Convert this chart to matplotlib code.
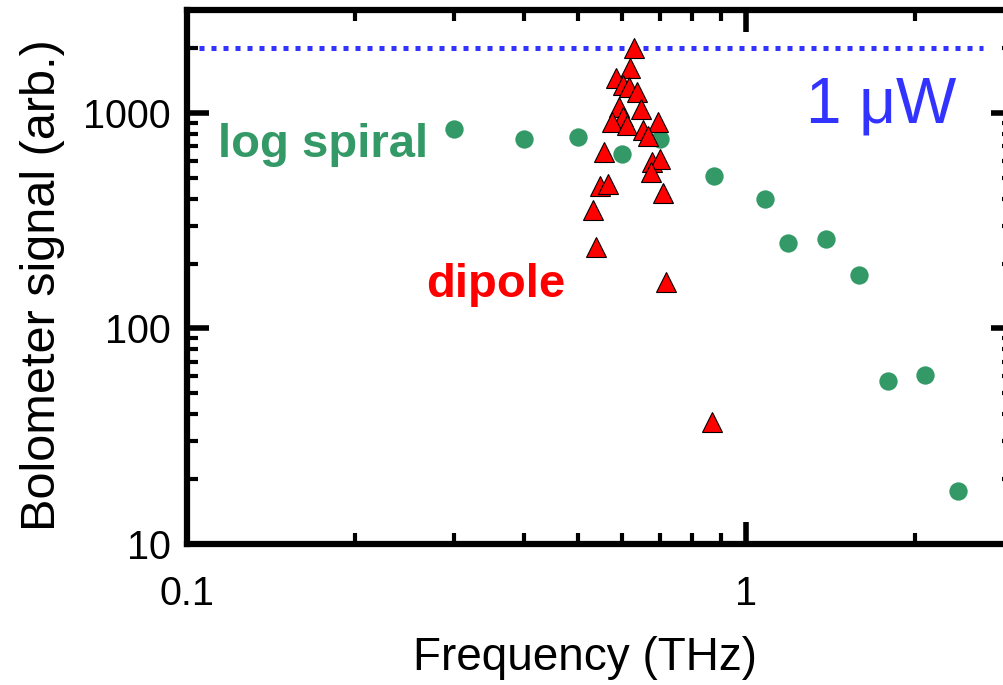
import matplotlib
matplotlib.use("Agg")
import matplotlib.pyplot as plt
from matplotlib.ticker import LogLocator, NullFormatter

plt.rcParams['font.family'] = ['Liberation Sans', 'DejaVu Sans']

# log spiral antenna (green circles)
spiral_f = [0.30, 0.40, 0.50, 0.60, 0.70, 0.874, 1.08, 1.19, 1.39, 1.59, 1.79, 2.09, 2.39]
spiral_s = [840, 755, 769, 641, 753, 509, 397, 248, 259, 177, 57, 60.5, 17.6]

# dipole antenna (red triangles)
dipole_f = [0.631, 0.620, 0.585, 0.601, 0.618, 0.638, 0.593, 0.648, 0.603, 0.575,
            0.612, 0.694, 0.655, 0.666, 0.557, 0.678, 0.702, 0.676, 0.548, 0.567,
            0.710, 0.531, 0.539, 0.719, 0.868]
dipole_s = [2002, 1607, 1453, 1344, 1320, 1243, 1066, 1040, 958, 903,
            877, 903, 831, 780, 659, 592, 614, 532, 457, 467,
            423, 354, 239, 164, 36.8]

# 1 uW reference level
ref_level = 2000
ref_span = [0.105, 2.65]

green = '#339966'
blue = '#3333ff'

fig = plt.figure(figsize=(10.04, 6.85), dpi=100)
ax = fig.add_axes([0.1863, 0.2058, 0.8227, 0.7796])

ax.plot(ref_span, [ref_level, ref_level], color=blue, lw=3.6,
        linestyle=(0, (1, 1.4)), dash_capstyle='butt', zorder=1)
ax.plot(spiral_f, spiral_s, 'o', color=green, ms=13.2, mec='none', zorder=2)
ax.plot(dipole_f, dipole_s, '^', color='#ff0000', ms=14, mec='black', mew=0.8, zorder=3)

ax.set_xscale('log')
ax.set_yscale('log')
ax.set_xlim(0.1, 3)
ax.set_ylim(10, 3000)

ax.set_xticks([0.1, 1])
ax.set_xticklabels(['0.1', '1'])
ax.set_yticks([10, 100, 1000])
ax.set_yticklabels(['10', '100', '1000'])
ax.xaxis.set_minor_locator(LogLocator(base=10, subs=range(2, 10)))
ax.yaxis.set_minor_locator(LogLocator(base=10, subs=range(2, 10)))
ax.xaxis.set_minor_formatter(NullFormatter())
ax.yaxis.set_minor_formatter(NullFormatter())

ax.tick_params(which='both', direction='in', top=True, right=True, labelsize=28.5)
ax.tick_params(which='major', length=16, width=4)
ax.tick_params(which='minor', length=8, width=3)
ax.tick_params(axis='x', which='major', pad=22)
ax.tick_params(axis='y', which='major', pad=12)
for sp in ax.spines.values():
    sp.set_linewidth(4.5)

ax.set_xlabel('Frequency (THz)', fontsize=33)
ax.set_ylabel('Bolometer signal (arb.)', fontsize=35)
ax.xaxis.set_label_coords(0.482, -0.172)
ax.yaxis.set_label_coords(-0.148, 0.485)

ax.text(0.1136, 623, 'log spiral', color=green, fontsize=34, fontweight='bold',
        ha='left', va='baseline')
ax.text(0.2675, 140, 'dipole', color='#ff0000', fontsize=34, fontweight='bold',
        ha='left', va='baseline')
ax.text(1.278, 905, '1 μW', color=blue, fontsize=46, ha='left', va='baseline')

fig.savefig('out.png', dpi=100)
